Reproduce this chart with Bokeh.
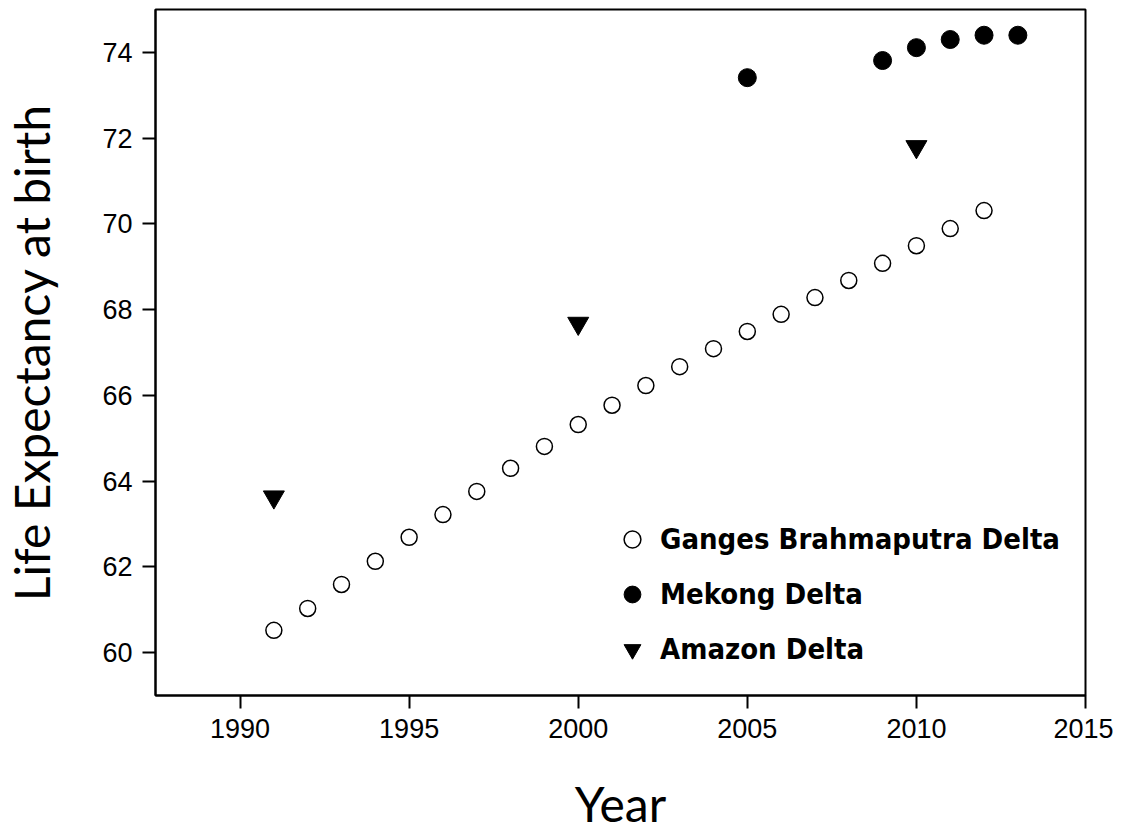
from bokeh.plotting import figure
from bokeh.models import FixedTicker, Legend, LegendItem, Range1d
from bokeh.embed import file_html
from bokeh.resources import INLINE

# ---- data ----
ganges_years = list(range(1991, 2013))
ganges_life = [60.52, 61.03, 61.59, 62.13, 62.69, 63.22, 63.76, 64.3, 64.81, 65.32, 65.77,
               66.23, 66.67, 67.09, 67.49, 67.89, 68.28, 68.68, 69.08, 69.49, 69.89, 70.31]
mekong_years = [2005, 2009, 2010, 2011, 2012, 2013]
mekong_life = [73.41, 73.81, 74.11, 74.3, 74.4, 74.4]
amazon_years = [1991, 2000, 2010]
amazon_life = [63.63, 67.68, 71.8]
x_ticks = [1990, 1995, 2000, 2005, 2010, 2015]
y_ticks = [60, 62, 64, 66, 68, 70, 72, 74]
series_names = ["Ganges Brahmaputra Delta", "Mekong Delta", "Amazon Delta"]
x_title = "Year"
y_title = "Life Expectancy at birth"

p = figure(frame_width=930, frame_height=686, output_backend="svg", toolbar_location=None,
           x_range=Range1d(1987.5, 2015.0), y_range=Range1d(59.0, 75.0),
           min_border_left=155, min_border_top=9, min_border_right=28, min_border_bottom=139)

p.background_fill_color = "white"
p.border_fill_color = "white"
p.grid.visible = False
p.outline_line_color = "black"
p.outline_line_width = 2

for ax in (p.xaxis[0], p.yaxis[0]):
    ax.axis_line_width = 2
    ax.axis_line_color = "black"
    ax.major_tick_line_width = 2
    ax.major_tick_in = 0
    ax.major_tick_out = 13
    ax.minor_tick_line_color = None
    ax.major_label_text_font = "Liberation Sans"
    ax.major_label_text_font_size = "27px"
    ax.major_label_text_color = "black"
    ax.axis_label_text_font = "Lato"
    ax.axis_label_text_font_style = "normal"
    ax.axis_label_text_font_size = "48px"
    ax.axis_label_text_color = "black"

p.xaxis.ticker = FixedTicker(ticks=x_ticks)
p.yaxis.ticker = FixedTicker(ticks=y_ticks)
p.xaxis.major_label_standoff = 10
p.yaxis.major_label_standoff = 10
p.xaxis.axis_label = x_title
p.yaxis.axis_label = y_title
p.xaxis.axis_label_standoff = 34
p.yaxis.axis_label_standoff = 39

r_g = p.scatter(ganges_years, ganges_life, marker="circle", size=16, fill_color="white",
                line_color="black", line_width=1.5)
r_m = p.scatter(mekong_years, mekong_life, marker="circle", size=18, fill_color="black",
                line_color="black")
r_a = p.scatter(amazon_years, amazon_life, marker="inverted_triangle", size=21,
                fill_color="black", line_color="black")

legend = Legend(items=[LegendItem(label=series_names[0], renderers=[r_g]),
                       LegendItem(label=series_names[1], renderers=[r_m]),
                       LegendItem(label=series_names[2], renderers=[r_a])],
                location=(456, 25), orientation="vertical",
                glyph_width=42, glyph_height=42, label_height=42, spacing=13,
                padding=0, margin=0, label_standoff=7,
                label_text_font="DejaVu Sans Condensed", label_text_font_style="bold",
                label_text_font_size="29px", label_text_color="black",
                border_line_alpha=0, background_fill_alpha=0)
p.add_layout(legend, "center")

open("out.html", "w").write(file_html(p, INLINE))
